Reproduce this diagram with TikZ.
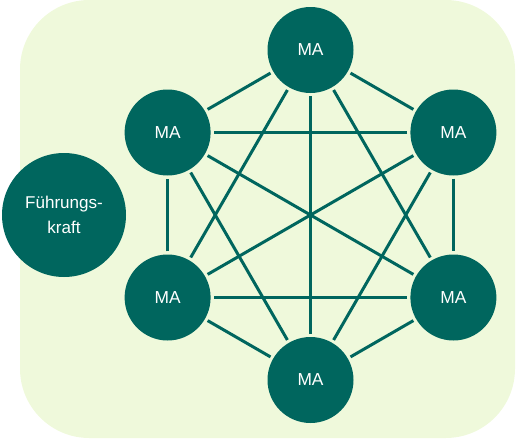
\documentclass[tikz,border=0pt]{standalone}
\usepackage{fontspec}
\setmainfont{Liberation Sans}
\usepackage{tikz}
\usetikzlibrary{positioning, calc}
\definecolor{mateal}{RGB}{0,102,94}
\definecolor{bggreen}{RGB}{239,249,219}
\tikzset{
  manode/.style={circle, fill=mateal, text=white, minimum size=64.5pt,
    inner sep=0pt, outer sep=0pt, font=\fontsize{13pt}{15pt}\selectfont},
  leadnode/.style={circle, fill=mateal, text=white, minimum size=93pt,
    inner sep=0pt, outer sep=0pt, align=center,
    font=\fontsize{12.8pt}{18.4pt}\selectfont},
  link/.style={draw=mateal, line width=2.25pt, shorten <=2.4pt, shorten >=2.4pt}
}

\begin{document}
\begin{tikzpicture}[x=0.75pt, y=-0.75pt]
  \useasboundingbox (0,0) rectangle (517,439);

  % Background panel
  \fill[bggreen, rounded corners=52pt] (20,0) rectangle (515,438);

  % Team members on a hexagon
  \coordinate (mid) at (310.5,215);
  \foreach \i/\ang in {1/-90, 2/-30, 3/30, 4/90, 5/150, 6/210}
    \node[manode] (ma\i) at ([shift={(\ang:165)}] mid) {MA};

  % Everyone talks to everyone
  \foreach \i in {1,...,5}{
    \pgfmathtruncatemacro{\next}{\i+1}
    \foreach \j in {\next,...,6}
      \draw[link] (ma\i) -- (ma\j);
  }

  % Leader outside the team
  \node[leadnode] (lead) at (64,215) {Führungs-\\kraft};
\end{tikzpicture}
\end{document}
